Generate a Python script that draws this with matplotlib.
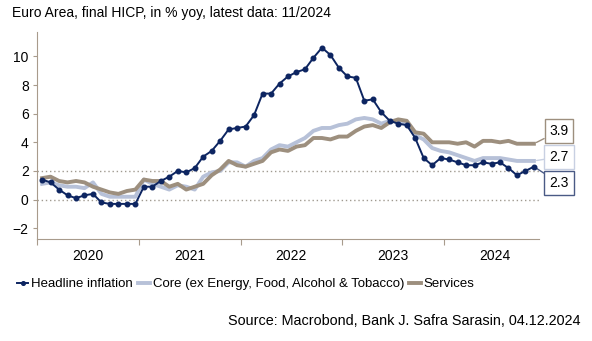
import numpy as np
import matplotlib
matplotlib.use("Agg")
import matplotlib.pyplot as plt

plt.rcParams['font.family'] = ['Liberation Sans', 'DejaVu Sans']

# monthly values, Jan 2020 .. Nov 2024
headline = [1.4, 1.2, 0.7, 0.3, 0.1, 0.3, 0.4, -0.2, -0.3, -0.3, -0.3, -0.3,
            0.9, 0.9, 1.3, 1.6, 2.0, 1.9, 2.2, 3.0, 3.4, 4.1, 4.9, 5.0,
            5.1, 5.9, 7.4, 7.4, 8.1, 8.6, 8.9, 9.1, 9.9, 10.6, 10.1, 9.2,
            8.6, 8.5, 6.9, 7.0, 6.1, 5.5, 5.3, 5.2, 4.3, 2.9, 2.4, 2.9,
            2.8, 2.6, 2.4, 2.4, 2.6, 2.5, 2.6, 2.2, 1.7, 2.0, 2.3]
core = [1.1, 1.2, 1.0, 0.9, 0.9, 0.8, 1.2, 0.4, 0.2, 0.2, 0.2, 0.2,
        1.4, 1.1, 0.9, 0.7, 1.0, 0.9, 0.7, 1.6, 1.9, 2.0, 2.6, 2.6,
        2.3, 2.7, 2.9, 3.5, 3.8, 3.7, 4.0, 4.3, 4.8, 5.0, 5.0, 5.2,
        5.3, 5.6, 5.7, 5.6, 5.3, 5.5, 5.5, 5.3, 4.5, 4.2, 3.6, 3.4,
        3.3, 3.1, 2.9, 2.7, 2.9, 2.9, 2.9, 2.8, 2.7, 2.7, 2.7]
services = [1.5, 1.6, 1.3, 1.2, 1.3, 1.2, 0.9, 0.7, 0.5, 0.4, 0.6, 0.7,
            1.4, 1.3, 1.3, 0.9, 1.1, 0.7, 0.9, 1.1, 1.7, 2.1, 2.7, 2.4,
            2.3, 2.5, 2.7, 3.3, 3.5, 3.4, 3.7, 3.8, 4.3, 4.3, 4.2, 4.4,
            4.4, 4.8, 5.1, 5.2, 5.0, 5.4, 5.6, 5.5, 4.7, 4.6, 4.0, 4.0,
            4.0, 3.9, 4.0, 3.7, 4.1, 4.1, 4.0, 4.1, 3.9, 3.9, 3.9]
years = ["2020", "2021", "2022", "2023", "2024"]
last_labels = ["3.9", "2.7", "2.3"]

c_head = "#0d2561"
c_core = "#b7c1d8"
c_serv = "#9d8f7e"
c_axis = "#a89b8c"

x = np.arange(len(headline)) + 0.6

fig = plt.figure(figsize=(5.92, 3.41), dpi=100)
ax = fig.add_axes([37 / 592, 1 - 239 / 341, 502 / 592, 207 / 341])

ax.axhline(0, color="#a09a90", lw=1, ls=(0, (1, 2)), zorder=1)
ax.axhline(2, color="#a09a90", lw=1, ls=(0, (1, 2)), zorder=1)

ax.plot(x, core, color=c_core, lw=2.8, label="Core (ex Energy, Food, Alcohol & Tobacco)", zorder=2)
ax.plot(x, services, color=c_serv, lw=2.8, label="Services", zorder=3)
ax.plot(x, headline, color=c_head, lw=1.4, marker="o", ms=3.3, label="Headline inflation", zorder=4)

ax.set_xlim(0, 59.2)
ax.set_ylim(-2.75, 11.7)
ax.set_yticks(range(-2, 11, 2))
ax.set_xticks([0, 12, 24, 36, 48])
ax.set_xticklabels([])
ax.set_xticks([6, 18, 30, 42, 54], minor=True)
ax.set_xticklabels(years, minor=True)
ax.tick_params(axis="x", which="major", length=4, color=c_axis, direction="out")
ax.tick_params(axis="x", which="minor", length=0, labelsize=10, pad=7)
ax.tick_params(axis="y", length=3, color=c_axis, labelsize=10, pad=3)

for s in ["top", "right"]:
    ax.spines[s].set_visible(False)
ax.spines["left"].set_color(c_axis)
ax.spines["bottom"].set_color(c_axis)

# end-of-series labels
label_pos = [(559, 341 - 131), (559, 341 - 157), (559, 341 - 183)]
series = [(services, c_serv), (core, "#c8d0e2"), (headline, "#4a5a85")]
for (vals, col), txt, pos in zip(series, last_labels, label_pos):
    ax.annotate(txt, xy=(x[-1], vals[-1]), xytext=pos, textcoords="figure pixels",
                ha="center", va="center", fontsize=10, annotation_clip=False,
                bbox=dict(boxstyle="square,pad=0.35", fc="white", ec=col, lw=1),
                arrowprops=dict(arrowstyle="-", color=col, lw=1, shrinkA=0, shrinkB=2))

handles, labels = ax.get_legend_handles_labels()
order = [2, 0, 1]
fig.legend([handles[i] for i in order], [labels[i] for i in order],
           loc="center left", bbox_to_anchor=(10 / 592, 1 - 284 / 341), ncol=3,
           frameon=False, fontsize=9.5, handlelength=0.9, handletextpad=0.2,
           columnspacing=0.4, borderpad=0, markerscale=0.8)

fig.text(12 / 592, 1 - 13 / 341, "Euro Area, final HICP, in % yoy, latest data: 11/2024",
         ha="left", va="center", fontsize=10)
fig.text(581 / 592, 1 - 321 / 341, "Source: Macrobond, Bank J. Safra Sarasin, 04.12.2024",
         ha="right", va="center", fontsize=10.4)

fig.savefig("out.png", dpi=100)
